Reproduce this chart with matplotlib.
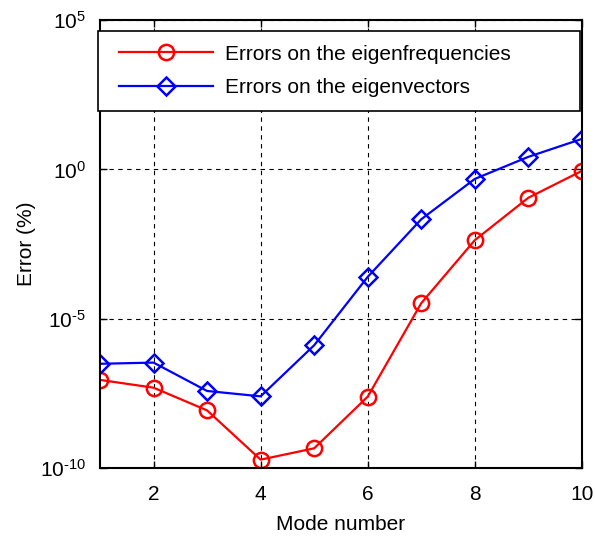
import matplotlib
matplotlib.use("Agg")
import matplotlib.pyplot as plt
from matplotlib.lines import Line2D
from matplotlib.legend_handler import HandlerLine2D
from matplotlib.ticker import FixedLocator, NullLocator

plt.rcParams['font.family'] = ['Liberation Sans', 'DejaVu Sans']
plt.rcParams['mathtext.fontset'] = 'custom'
plt.rcParams['mathtext.rm'] = 'Liberation Sans'
plt.rcParams['axes.unicode_minus'] = False

modes = [1, 2, 3, 4, 5, 6, 7, 8, 9, 10]
log_err_freq = [-7.05, -7.31, -8.07, -9.72, -9.34, -7.61, -4.48, -2.37, -0.95, -0.05]
log_err_vec = [-6.51, -6.47, -7.42, -7.60, -5.89, -3.60, -1.67, -0.32, 0.42, 1.02]
err_freq = [10 ** v for v in log_err_freq]
err_vec = [10 ** v for v in log_err_vec]

xticks = [2, 4, 6, 8, 10]
yticks = [1e-10, 1e-5, 1e0, 1e5]
ytick_labels = [r'$\mathregular{10^{\text{-10}}}$', r'$\mathregular{10^{\text{-5}}}$',
                r'$\mathregular{10^{0}}$', r'$\mathregular{10^{5}}$']

fig = plt.figure(figsize=(5.95, 5.42), dpi=100)
ax = fig.add_axes([0.168, 0.1365, 0.810, 0.8265])

ax.plot(modes, err_freq, color='#ff0000', lw=1.6, marker='o', ms=11,
        mfc='none', mec='#ff0000', mew=1.8, label='Errors on the eigenfrequencies')
ax.plot(modes, err_vec, color='#0000ff', lw=1.6, marker='D', ms=9,
        mfc='none', mec='#0000ff', mew=1.8, label='Errors on the eigenvectors')

ax.set_yscale('log')
ax.set_xlim(1, 10)
ax.set_ylim(1e-10, 1e5)
ax.xaxis.set_major_locator(FixedLocator(xticks))
ax.set_xticklabels([str(t) for t in xticks])
ax.yaxis.set_major_locator(FixedLocator(yticks))
ax.yaxis.set_minor_locator(NullLocator())
ax.set_yticklabels(ytick_labels)
ax.tick_params(direction='in', labelsize=15, length=5, width=1, top=True, right=True)
ax.tick_params(axis='x', pad=12)
ax.tick_params(axis='y', pad=10)
ax.grid(True, color='black', linestyle=(0, (4, 4)), linewidth=0.8)
for s in ax.spines.values():
    s.set_linewidth(1.5)
ax.set_xlabel('Mode number', fontsize=15, labelpad=8)
ax.set_ylabel('Error (%)', fontsize=15, labelpad=3)

leg = ax.legend(loc='upper left', bbox_to_anchor=(-0.004, 0.976, 1.0, 0.0), mode='expand',
                borderaxespad=0, fontsize=15, fancybox=False, framealpha=1,
                edgecolor='black', handlelength=4.85, handletextpad=0.6,
                borderpad=0.66, labelspacing=0.69,
                handler_map={Line2D: HandlerLine2D(xpad=0.33)})
leg.get_frame().set_linewidth(1.2)

fig.savefig('out.png', dpi=100)
